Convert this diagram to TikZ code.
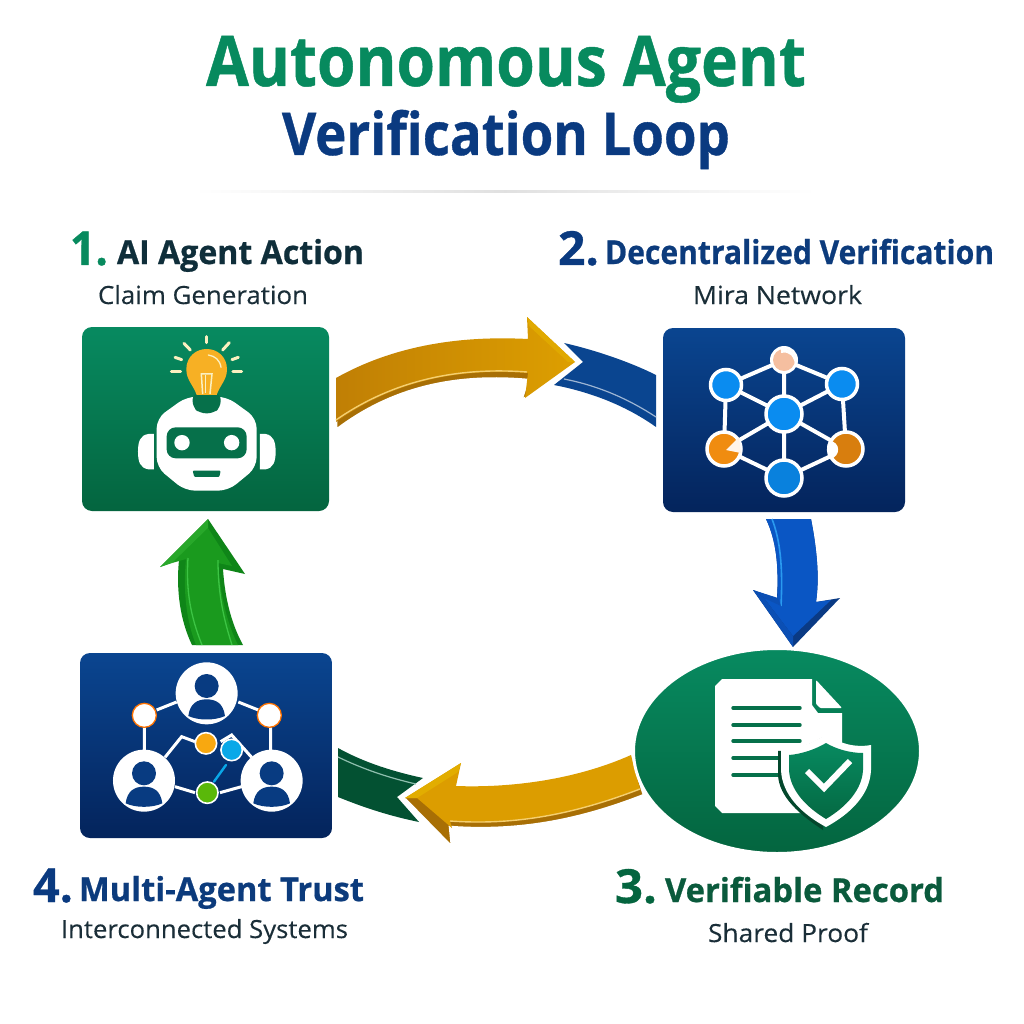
\documentclass[tikz,border=0pt]{standalone}
\usepackage{graphicx}
\usepackage{fontspec}
\setmainfont{Open Sans}
\newfontfamily\hvyfont[UprightFont=* Bold,FakeBold=0.7]{Open Sans}
\newfontfamily\midfont[FakeBold=0.25]{Open Sans}
\usetikzlibrary{shapes.geometric}
\definecolor{grT}{HTML}{078A60}
\definecolor{grB}{HTML}{04653F}
\definecolor{grM}{HTML}{06704A}
\definecolor{nvT}{HTML}{0A4590}
\definecolor{nvB}{HTML}{04245C}
\definecolor{ttlG}{HTML}{078A5E}
\definecolor{ttlB}{HTML}{0A3A80}
\definecolor{inkD}{HTML}{0F2E3A}
\definecolor{inkB}{HTML}{0C3B7C}
\definecolor{inkG}{HTML}{0A5A3C}
\definecolor{subT}{HTML}{1A2E38}
\definecolor{goldA}{HTML}{C07F05}
\definecolor{goldB}{HTML}{DD9F00}
\definecolor{goldD}{HTML}{A86F05}
\definecolor{goldH}{HTML}{F5CF70}
\definecolor{sky}{HTML}{0A8CF0}
\definecolor{org}{HTML}{F08C10}
\definecolor{bulb}{HTML}{F7B024}
\definecolor{raycol}{HTML}{FBF0C0}
\definecolor{peach}{HTML}{F5BFA0}
\definecolor{blM}{HTML}{0A56C4}
\definecolor{blD}{HTML}{0A3A84}
\definecolor{blL}{HTML}{2A9AF0}
\definecolor{blF}{HTML}{0B4FB4}
\definecolor{gaM}{HTML}{1A9A1E}
\definecolor{gaD}{HTML}{0F8518}
\definecolor{gaL}{HTML}{3CC444}
\definecolor{gaF}{HTML}{28A82A}
\definecolor{tcy}{HTML}{0AA8E8}
\definecolor{tgr}{HTML}{5AB80A}
\definecolor{tor}{HTML}{F8A810}
\newcommand\fitw[2]{\resizebox{#1pt}{\height}{#2}}
\tikzset{
  lab/.style={inner sep=0pt,outer sep=0pt,anchor=base west},
  ttl/.style={lab,font=\fontsize{70}{70}\selectfont\hvyfont,text=ttlG},
  ttlb/.style={lab,font=\fontsize{59}{59}\selectfont\hvyfont,text=ttlB},
  numl/.style={lab,font=\fontsize{47}{47}\selectfont\hvyfont},
  head/.style={lab,font=\fontsize{33}{33}\selectfont\hvyfont},
  subl/.style={lab,font=\fontsize{25}{25}\selectfont\midfont,text=subT},
  greenbox/.style={inner sep=0pt,rounded corners=10pt,top color=grT,bottom color=grB},
  navybox/.style={inner sep=0pt,rounded corners=10pt,top color=nvT,bottom color=nvB},
  wl/.style={draw=white,line width=4pt},
  ray/.style={draw=raycol,line width=3pt,line cap=round},
  netnode/.style={draw=white,line width=3.5pt},
}
\begin{document}
\begin{tikzpicture}[x=1pt,y=-1pt]
\useasboundingbox (0,0) rectangle (1024,1024);
\fill[white] (0,0) rectangle (1024,1024);

% title
\node[ttl] (title1) at (206,86) {\fitw{600}{Autonomous Agent}};
\node[ttlb] (title2) at (282,155) {\fitw{448}{Verification Loop}};
\shade[left color=white,right color=white,middle color=black!12] (195,190.5) rectangle (815,193);

% labels
\node[numl,text=ttlG] (n1) at (70,265) {\fitw{38}{1.}};
\node[head,text=inkD] (h1) at (117,264) {\fitw{247}{AI Agent Action}};
\node[subl] (s1) at (98,304) {\fitw{210}{Claim Generation}};
\node[numl,text=ttlB] (n2) at (558,265) {\fitw{41}{2.}};
\node[head,text=inkB] (h2) at (605,264) {\fitw{389}{Decentralized Verification}};
\node[subl] (s2) at (693,304) {\fitw{169}{Mira Network}};
\node[numl,text=grB] (n3) at (615,903) {\fitw{42}{3.}};
\node[head,text=inkG] (h3) at (665,902) {\fitw{279}{Verifiable Record}};
\node[subl] (s3) at (708,942) {\fitw{160}{Shared Proof}};
\node[numl,text=ttlB] (n4) at (33,902) {\fitw{40}{4.}};
\node[head,text=inkB] (h4) at (79,901) {\fitw{285}{Multi-Agent Trust}};
\node[subl] (s4) at (61,938) {\fitw{287}{Interconnected Systems}};

% boxes
\node[greenbox,minimum width=247pt,minimum height=184pt] (agent) at (205.5,419) {};
\node[navybox,minimum width=242pt,minimum height=184pt] (net) at (784,420) {};
\node[navybox,minimum width=252pt,minimum height=185pt] (trust) at (206,745.5) {};

% --- robot icon
\begin{scope}[shift={(60,310)},x=0.3333pt,y=-0.3333pt]
  \draw[ray] (440,80) -- (440,98);
  \draw[ray] (372,100) -- (391,120);
  \draw[ray] (508,98) -- (488,120);
  \draw[ray] (345,142) -- (365,149);
  \draw[ray] (535,142) -- (516,149);
  \draw[ray] (334,184) -- (362,184);
  \draw[ray] (519,184) -- (545,184);
  % ears
  \fill[white] (282,372) -- (265,372) .. controls (240,376) and (234,395) .. (234,425) .. controls (234,455) and (240,474) .. (265,478) -- (282,478) -- cycle;
  \fill[white] (600,372) -- (617,372) .. controls (640,376) and (647,395) .. (647,425) .. controls (647,455) and (640,474) .. (617,478) -- (600,478) -- cycle;
  % head
  \fill[white,rounded corners=10pt] (380,260) -- (500,260) -- (590,325) -- (590,472) -- (505,542) -- (375,542) -- (290,472) -- (290,325) -- cycle;
  \fill[grM,rounded corners=9pt] (320,352) rectangle (560,445);
  \fill[white] (366,398) circle[radius=7.7pt];
  \fill[white] (515,398) circle[radius=7.7pt];
  \fill[grM,rounded corners=1pt] (398,482) -- (482,482) -- (478,501) -- (403,501) -- cycle;
  % bulb
  \fill[grM,rounded corners=6pt] (398,250) -- (482,250) -- (482,292) -- (460,310) -- (420,310) -- (398,292) -- cycle;
  \fill[bulb] (410,255) .. controls (400,225) and (379,210) .. (379,178) .. controls (379,140) and (408,117) .. (440,117) .. controls (472,117) and (501,140) .. (501,178) .. controls (501,210) and (480,225) .. (470,255) -- cycle;
  \draw[raycol,line width=1.3pt,line cap=round] (445,135) .. controls (465,138) and (480,150) .. (483,172);
  \draw[raycol,line width=1.5pt] (428,252) -- (424,192) -- (456,192) -- (450,252);
  \draw[raycol,line width=1.2pt] (437,196) -- (437,250);
\end{scope}

% --- network icon
\coordinate (cT) at (784,360);
\coordinate (cLT) at (726,385);
\coordinate (cRT) at (842,384);
\coordinate (cC) at (784,414);
\coordinate (cLB) at (724,449);
\coordinate (cRB) at (846,449);
\coordinate (cB) at (784,478);
\draw[wl] (cT)--(cLT) (cT)--(cRT) (cT)--(cC) (cLT)--(cC) (cRT)--(cC) (cLT)--(cLB) (cRT)--(cRB)
  (cLB)--(cC) (cRB)--(cC) (cC)--(cB) (cLB)--(cB) (cRB)--(cB);
\fill[fill=white] (cT) circle[radius=14pt];
\fill[fill=peach] (cT) circle[radius=11pt];
\fill[white] (781,349) .. controls (792,347) and (797,356) .. (796,368) .. controls (794,356) and (790,351) .. (781,353) -- cycle;
\filldraw[netnode,fill=sky] (cLT) circle[radius=15.5pt];
\filldraw[netnode,fill=sky] (cRT) circle[radius=15.5pt];
\filldraw[netnode,fill=sky] (cC) circle[radius=18pt];
\filldraw[netnode,fill=org] (cLB) circle[radius=17pt];
\filldraw[netnode,fill=org!90!black] (cRB) circle[radius=17pt];
\filldraw[netnode,fill=sky!92!black] (cB) circle[radius=18pt];
\fill[white!92!orange] (726,450) -- (739,437) -- (741,453) -- cycle;
\fill[white] (829,441) .. controls (841,441) and (841,457) .. (830,459) .. controls (826,455) and (826,445) .. (829,441) -- cycle;

% --- trust icon
\begin{scope}[shift={(60,640)},x=0.3333pt,y=-0.3333pt]
  \draw[wl,line width=3pt] (290,210) -- (350,186) (535,186) -- (595,210) (253,262) -- (253,332) (632,262) -- (632,332)
    (315,352) -- (365,290) -- (405,305) (482,305) -- (515,285) -- (575,352)
    (345,440) -- (405,458) (480,458) -- (545,440);
  \filldraw[draw=orange!90!red,fill=white,line width=1.3pt] (253,226) circle[radius=12pt];
  \filldraw[draw=orange!90!red,fill=white,line width=1.3pt] (628,226) circle[radius=12pt];
  \foreach \ux/\uy/\un in {440/160/a,252/422/b,635/422/c}{
    \fill[white] (\ux,\uy) circle[radius=31pt];
    \fill[nvT!70!nvB] (\ux,\uy-22) circle[radius=12pt];
    \fill[nvT!70!nvB] (\ux-55,\uy+68) .. controls (\ux-50,\uy+30) and (\ux-28,\uy+18) .. (\ux,\uy+18) .. controls (\ux+28,\uy+18) and (\ux+50,\uy+30) .. (\ux+55,\uy+68) .. controls (\ux+25,\uy+82) and (\ux-25,\uy+82) .. (\ux-55,\uy+68) -- cycle;
  }
  \draw[draw=tcy,line width=2.4pt,line cap=round] (498,375) -- (462,425);
  \filldraw[draw=white,line width=1.6pt,fill=tor] (438,310) circle[radius=10.7pt];
  \filldraw[draw=white,line width=1.6pt,fill=tcy] (515,330) circle[radius=10.7pt];
  \filldraw[draw=white,line width=1.6pt,fill=tgr] (442,458) circle[radius=10.7pt];
\end{scope}

% --- blue arc (to network)
\fill[nvT] (564,343) .. controls (595,350) and (630,362) .. (656,375) -- (656,427) .. controls (625,405) and (590,392) .. (554,385) -- (583,362) -- cycle;
\draw[white!60!nvT,line width=1.2pt] (564,379) .. controls (600,386) and (630,400) .. (656,417);

% --- gold arrow 1
\fill[goldD,draw=white,line width=2.5pt,line join=miter] (336,378) .. controls (400,342) and (470,336) .. (528,339) -- (527,317) -- (576,362) -- (521,401) -- (528,380) .. controls (460,374) and (395,385) .. (336,430) -- cycle;
\shade[left color=goldA,right color=goldB] (336,378) .. controls (400,342) and (470,336) .. (528,339) -- (527,317) -- (575,362) -- (525,398) -- (528,373) .. controls (460,368) and (395,380) .. (336,422) -- cycle;
\draw[goldH,line width=1.4pt] (336,420) .. controls (395,379) and (460,367) .. (527,372);
\fill[goldB!90!yellow] (527,317) -- (575,362) -- (568,362) -- (529,326) -- cycle;

% --- blue arrow down
\fill[blD] (766,519) -- (811,519) .. controls (816,545) and (820,575) .. (816,602) -- (840,598) -- (793,647) -- (753,590) -- (775,598) -- (777,598) .. controls (779,565) and (776,540) .. (766,519) -- cycle;
\fill[blM] (766,519) -- (811,519) .. controls (816,545) and (820,575) .. (816,602) -- (831,600) -- (793,636) -- (764,598) -- (777,601) .. controls (779,565) and (776,540) .. (766,519) -- cycle;
\draw[blL,line width=1.6pt] (772,519) .. controls (780,540) and (783,565) .. (781,606);
\fill[blF] (793,647) -- (753,590) -- (764,598) -- (793,636) -- cycle;
\fill[blF] (753,590) -- (778,598) -- (781,606) -- (764,598) -- cycle;

% --- green arrow up
\fill[gaD] (208,519) -- (245,574) -- (223,569) .. controls (225,600) and (232,625) .. (243,645) -- (192,645) .. controls (180,620) and (176,590) .. (179,560) -- (160,567) -- cycle;
\fill[gaM] (196,645) .. controls (186,620) and (183,590) .. (186,559) -- (172,563) -- (208,528) -- (232,566) -- (218,563) .. controls (221,600) and (228,625) .. (238,645) -- cycle;
\draw[gaL,line width=1.3pt] (202,645) .. controls (190,615) and (186,590) .. (188,558);
\draw[gaL,line width=1.3pt] (232,645) .. controls (224,620) and (218,595) .. (218,560);
\fill[gaF] (208,519) -- (160,567) -- (172,563) -- (208,528) -- cycle;

% --- green arc
\fill[grB!80!black] (338,748) .. controls (365,763) and (395,772) .. (423,778) -- (397,797) -- (419,822) .. controls (390,816) and (365,808) .. (338,797) -- cycle;
\draw[white!55!grM,line width=1.2pt] (338,757) .. controls (365,770) and (390,778) .. (416,784);

% --- gold arrow lower
\fill[goldD,draw=white,line width=2.5pt,line join=miter] (631,755) .. controls (575,780) and (510,788) .. (456,786) -- (461,763) -- (404,798) -- (452,847) -- (450,827) .. controls (520,832) and (580,820) .. (644,795) -- cycle;
\fill[goldB!95!goldA] (631,755) .. controls (575,780) and (510,788) .. (456,786) -- (461,763) -- (405,798) -- (417,798) -- (452,828) -- (450,821) .. controls (520,826) and (580,812) .. (640,789) -- cycle;
\draw[goldH,line width=1.4pt] (450,821) .. controls (520,826) and (580,812) .. (640,789);
\fill[goldB!85!yellow] (461,763) -- (405,798) -- (417,798) -- (458,772) -- cycle;

% --- ellipse record
\node[ellipse,draw=white,line width=3pt,top color=grT,bottom color=grB,minimum width=287pt,minimum height=205pt,inner sep=0pt] (record) at (777,751) {};
% document
\fill[white] (722,679) -- (812,679) -- (812,705) -- (818,713) -- (842,713) -- (842,790) -- (842,813) -- (722,813) -- (715,806) -- (715,686) -- cycle;
\fill[white,rounded corners=1pt] (816,680) -- (842,708) -- (820,708) -- (816,704) -- cycle;
\foreach \ly in {708,725,741,758,775}{
  \draw[grM,line width=3.4pt,line cap=round] (733,\ly) -- (800,\ly);
}
% shield
\fill[grB!70!black] (823,737) .. controls (810,745) and (795,750) .. (778,751) -- (778,775) .. controls (779,797) and (800,815) .. (823,830) -- cycle;
\fill[white] (826,734) .. controls (838,743) and (854,748) .. (871,745) -- (871,770) .. controls (870,795) and (850,814) .. (826,827) .. controls (802,814) and (782,795) .. (781,770) -- (781,749) .. controls (798,748) and (813,744) .. (826,734) -- cycle;
\shade[top color=grT,bottom color=grB!90!grT] (826,743) .. controls (836,749) and (850,753) .. (863,753) -- (863,770) .. controls (862,790) and (846,807) .. (826,819) .. controls (806,807) and (790,790) .. (789,770) -- (789,755) .. controls (802,754) and (816,749) .. (826,743) -- cycle;
\draw[white,line width=6pt] (807,771) -- (824,788) -- (850,761);
\end{tikzpicture}
\end{document}
